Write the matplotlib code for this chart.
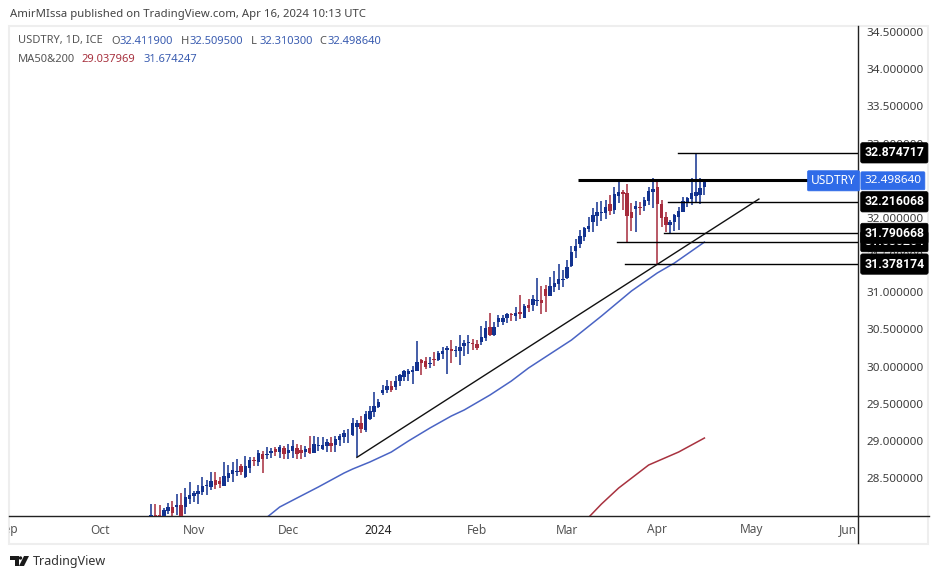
import numpy as np
import matplotlib
matplotlib.use('Agg')
import matplotlib.pyplot as plt
from matplotlib.patches import Rectangle, Polygon, Circle
from matplotlib.transforms import Bbox

plt.rcParams['font.family'] = ['Noto Sans', 'DejaVu Sans']

# daily candles
opens = [27.93, 28.002, 28.002, 27.96, 28.056, 28.110, 28.110, 28.137, 28.110, 28.218,
         28.258, 28.285, 28.312, 28.392, 28.379, 28.473, 28.464, 28.392, 28.505, 28.549,
         28.585, 28.661, 28.509, 28.635, 28.738, 28.720, 28.823, 28.814, 28.841, 28.890,
         28.850, 28.899, 28.836, 28.859, 28.899, 28.877, 28.850, 28.899, 28.836, 28.935,
         28.890, 28.926, 28.971, 28.944, 29.011, 29.052, 29.101, 29.079, 29.186, 29.240,
         29.150, 29.298, 29.388, 29.455, 29.647, 29.683, 29.737, 29.724, 29.804, 29.858,
         29.899, 29.925, 29.939, 30.087, 30.073, 30.038, 30.100, 30.087, 30.168, 30.221,
         30.235, 30.212, 30.208, 30.275, 30.311, 30.316, 30.302, 30.325, 30.383, 30.531,
         30.423, 30.603, 30.603, 30.648, 30.702, 30.684, 30.729, 30.657, 30.827, 30.827,
         30.881, 30.895, 31.043, 30.948, 31.069, 31.110, 31.159, 31.190, 31.352, 31.554,
         31.648, 31.742, 31.845, 31.948, 32.024, 32.061, 32.065, 32.186, 32.105, 32.294,
         32.347, 32.334, 32.078, 32.119, 32.146, 32.159, 32.226, 32.347, 32.415, 32.186,
         32.011, 31.904, 31.944, 32.011, 32.078, 32.199, 32.253, 32.294, 32.307, 32.4119]
highs = [28.146, 28.146, 28.137, 28.092, 28.159, 28.191, 28.280, 28.294, 28.370, 28.451,
         28.325, 28.406, 28.513, 28.469, 28.581, 28.585, 28.518, 28.715, 28.675, 28.715,
         28.756, 28.684, 28.792, 28.787, 28.787, 28.877, 28.863, 28.917, 28.899, 28.922,
         28.940, 28.931, 28.958, 29.011, 28.958, 28.944, 28.931, 29.065, 29.065, 29.052,
         29.052, 29.025, 29.047, 29.061, 29.092, 29.146, 29.155, 29.303, 29.280, 29.334,
         29.406, 29.469, 29.653, 29.558, 29.751, 29.818, 29.804, 29.872, 29.899, 29.952,
         29.966, 30.006, 30.342, 30.100, 30.127, 30.123, 30.195, 30.208, 30.257, 30.275,
         30.356, 30.275, 30.423, 30.356, 30.423, 30.365, 30.356, 30.544, 30.612, 30.719,
         30.598, 30.693, 30.693, 30.715, 30.715, 30.796, 30.962, 30.836, 30.908, 30.962,
         31.190, 31.083, 31.096, 31.204, 31.285, 31.379, 31.298, 31.433, 31.621, 31.715,
         31.836, 31.877, 32.015, 32.127, 32.217, 32.226, 32.240, 32.307, 32.419, 32.500,
         32.374, 32.455, 32.195, 32.226, 32.217, 32.285, 32.419, 32.531, 32.486, 32.240,
         32.083, 31.971, 32.051, 32.150, 32.285, 32.285, 32.540, 32.874717, 32.540, 32.5095]
lows = [27.90, 27.90, 27.90, 27.92, 28.011, 27.993, 28.002, 27.93, 28.011, 28.155,
        28.173, 28.150, 28.271, 28.271, 28.343, 28.352, 28.370, 28.392, 28.446, 28.442,
        28.531, 28.540, 28.500, 28.572, 28.661, 28.661, 28.567, 28.751, 28.774, 28.796,
        28.769, 28.751, 28.751, 28.769, 28.751, 28.760, 28.787, 28.823, 28.832, 28.863,
        28.877, 28.845, 28.850, 28.854, 28.931, 28.971, 28.971, 29.070, 28.778, 29.110,
        29.114, 29.280, 29.325, 29.437, 29.616, 29.638, 29.661, 29.683, 29.737, 29.804,
        29.804, 29.764, 29.939, 29.885, 29.966, 29.979, 30.011, 30.073, 30.100, 29.899,
        30.047, 30.127, 30.020, 30.141, 30.168, 30.221, 30.221, 30.289, 30.342, 30.410,
        30.410, 30.536, 30.558, 30.581, 30.612, 30.612, 30.639, 30.652, 30.733, 30.747,
        30.814, 30.706, 30.733, 30.948, 31.002, 31.029, 31.069, 31.177, 31.338, 31.460,
        31.594, 31.688, 31.813, 31.813, 31.894, 31.962, 31.980, 32.038, 32.047, 32.195,
        32.105, 31.680264, 31.823, 31.814, 32.038, 32.096, 32.173, 32.128, 31.378174, 31.881,
        31.814, 31.790668, 31.818, 31.836, 32.078, 32.146, 32.173, 32.216068, 32.186, 32.3103]
closes = [28.002, 27.95, 27.95, 28.070, 28.110, 28.029, 28.137, 27.97, 28.244, 28.271,
          28.298, 28.330, 28.392, 28.406, 28.464, 28.406, 28.419, 28.527, 28.567, 28.608,
          28.594, 28.581, 28.661, 28.742, 28.729, 28.836, 28.760, 28.823, 28.863, 28.850,
          28.917, 28.823, 28.877, 28.931, 28.823, 28.836, 28.890, 28.836, 28.958, 28.944,
          28.944, 28.984, 28.931, 29.025, 29.070, 29.110, 29.110, 29.240, 29.240, 29.159,
          29.361, 29.401, 29.469, 29.523, 29.683, 29.737, 29.683, 29.804, 29.885, 29.939,
          29.939, 29.952, 30.060, 30.047, 29.993, 30.047, 30.091, 30.181, 30.208, 30.248,
          30.208, 30.221, 30.262, 30.316, 30.325, 30.307, 30.244, 30.396, 30.517, 30.423,
          30.531, 30.648, 30.657, 30.706, 30.693, 30.720, 30.711, 30.818, 30.787, 30.908,
          30.895, 30.854, 30.948, 31.083, 31.123, 31.177, 31.177, 31.338, 31.540, 31.621,
          31.756, 31.863, 31.894, 32.038, 32.074, 32.083, 32.146, 32.092, 32.321, 32.347,
          32.325, 32.025, 31.998, 32.159, 32.128, 32.240, 32.361, 32.388, 32.186, 31.998,
          31.904, 31.939, 32.038, 32.092, 32.226, 32.267, 32.334, 32.347, 32.401, 32.49864]

# moving averages, sampled by bar number
ma50_bars = [27, 30, 34, 39, 45, 47, 51, 56, 60, 65, 70, 73, 79, 84, 88, 98, 105, 112, 118, 122, 129]
ma50_vals = [27.97, 28.11, 28.23, 28.379, 28.567, 28.621, 28.715, 28.849, 28.998, 29.172,
             29.334, 29.415, 29.616, 29.805, 29.980, 30.356, 30.679, 31.016, 31.258, 31.392, 31.674]
ma200_bars = [102, 105, 109, 116, 123, 129]
ma200_vals = [27.97, 28.15, 28.365, 28.675, 28.850, 29.038]

# drawn horizontal levels: price, first bar
level_vals = [32.874717, 32.216068, 31.790668, 31.680264, 31.378174]
level_text = ['32.874717', '32.216068', '31.790668', '31.680264', '31.378174']
level_start = [122.8, 120.5, 119.6, 108.6, 110.5]
resistance = 32.509
resistance_start = 99.5
resistance_end = 154.5
trend_bars = [48, 141.7]
trend_vals = [28.778, 32.253]

price_ticks = [28.5, 29, 29.5, 30, 30.5, 31, 31.5, 32, 32.5, 33, 33.5, 34, 34.5]
month_bars = [-33.3, -12, 10, 32, 53, 76, 97, 118, 140, 162.5]
month_names = ['Sep', 'Oct', 'Nov', 'Dec', '2024', 'Feb', 'Mar', 'Apr', 'May', 'Jun']

W, H = 939, 579
BLUE = '#12328f'
RED = '#a62b3c'
GREY = '#555555'
LAST = '#2f6be8'

fig = plt.figure(figsize=(W / 100, H / 100), dpi=100)

# page layer in pixels for the frame and footer
page = fig.add_axes([0, 0, 1, 1], zorder=0)
page.set_xlim(0, W)
page.set_ylim(H, 0)
page.axis('off')
page.add_patch(Rectangle((9, 26), 919, 518, fc='none', ec='#eeeeee', lw=1.5))
page.plot([858, 858], [516, 543], color='#222222', lw=1)
page.plot([858, 929], [516, 516], color='#222222', lw=1)

# price pane
ax = fig.add_axes([9 / W, 1 - 516 / H, 849 / W, 490 / H], zorder=1)
ax.patch.set_alpha(0)
ax.set_xlim(-33.1, 164.8)
ax.set_ylim(27.989, 34.581)
for side in ['top', 'left']:
    ax.spines[side].set_visible(False)
for side in ['right', 'bottom']:
    ax.spines[side].set_color('#222222')
    ax.spines[side].set_linewidth(1)

bars = np.arange(len(opens))
o = np.array(opens)
c = np.array(closes)
colors = [BLUE if close >= op else RED for op, close in zip(o, c)]
ax.vlines(bars, lows, highs, colors=colors, lw=1.1, zorder=2)
ax.bar(bars, np.abs(c - o), bottom=np.minimum(o, c), width=0.8, color=colors, zorder=3)

ax.plot(ma50_bars, ma50_vals, color='#4a64c4', lw=1.1, zorder=2)
ax.plot(ma200_bars, ma200_vals, color='#a8323f', lw=1.1, zorder=2)

for val, start in zip(level_vals, level_start):
    ax.plot([start, 164.8], [val, val], color='black', lw=1, zorder=4)
ax.plot([resistance_start, resistance_end], [resistance, resistance], color='black', lw=2.2,
        solid_capstyle='butt', zorder=4)
ax.plot(trend_bars, trend_vals, color='#111111', lw=1, zorder=4)

ax.yaxis.tick_right()
ax.set_yticks(price_ticks)
ax.set_yticklabels(['%.6f' % p for p in price_ticks])
ax.tick_params(axis='y', length=0, pad=6, labelsize=8.4, labelcolor='#3d3d3d')
ax.set_xticks([])

# month labels are cut off by the pane edges
clip = Bbox.from_extents(9, 0, 858, H)
for b, name in zip(month_bars, month_names):
    x = 151 + 4.29 * b
    t = page.text(x, 530, name, ha='center', va='center', fontsize=8.6,
                  color='#222222' if name == '2024' else GREY,
                  fontweight='medium' if name == '2024' else 'normal')
    t.set_clip_box(clip)
    t.set_clip_on(True)

# price labels on the axis
yaxis_tf = ax.get_yaxis_transform()
for idx in [3, 0, 1, 2, 4]:
    ax.text(1.0075, level_vals[idx], level_text[idx], transform=yaxis_tf, ha='left', va='center',
            fontsize=8.8, family='Roboto', fontweight='bold', color='white', clip_on=False, zorder=6,
            bbox=dict(boxstyle='round,pad=0.3,rounding_size=0.15', fc='black', ec='black', lw=0.5))
ax.text(1.0075, closes[-1], '32.498640', transform=yaxis_tf, ha='left', va='center', fontsize=8.4,
        color='white', clip_on=False, zorder=6,
        bbox=dict(boxstyle='round,pad=0.3,rounding_size=0.1', fc=LAST, ec=LAST, lw=0.5))
ax.text(0.9975, closes[-1], 'USDTRY', transform=yaxis_tf, ha='right', va='center', fontsize=8.6,
        color='white', clip_on=False, zorder=6,
        bbox=dict(boxstyle='round,pad=0.3,rounding_size=0.1', fc=LAST, ec=LAST, lw=0.5))

# header and legend
page.text(10, 14, 'AmirMIssa published on TradingView.com, Apr 16, 2024 10:13 UTC', fontsize=8.17,
          color='#444444', va='center')
page.text(18, 41, 'USDTRY, 1D, ICE', fontsize=8, color=GREY, va='center')
for lx, vx, letter, val in [(111, 120, 'O', '32.411900'), (181, 190, 'H', '32.509500'),
                            (251, 259, 'L', '32.310300'), (319, 327, 'C', '32.498640')]:
    page.text(lx, 41, letter, fontsize=8, color=GREY, va='center')
    page.text(vx, 41, val, fontsize=8, color='#3a5cb0', va='center')
page.text(18, 59, 'MA50&200', fontsize=8, color=GREY, va='center')
page.text(81, 59, '29.037969', fontsize=8, color='#a8323f', va='center')
page.text(143, 59, '31.674247', fontsize=8, color='#3a5cb0', va='center')

# TradingView footer mark
page.add_patch(Polygon([(10, 556), (19, 556), (19, 566), (15, 566), (15, 560), (10, 560)], fc='#1a1a1a'))
page.add_patch(Circle((20.5, 558), 1.7, fc='#1a1a1a'))
page.add_patch(Polygon([(24, 556), (29, 556), (24, 566), (19, 566)], fc='#1a1a1a'))
page.text(33, 561.5, 'TradingView', fontsize=9, color='#333333', va='center')

fig.savefig('out.png', dpi=100)
